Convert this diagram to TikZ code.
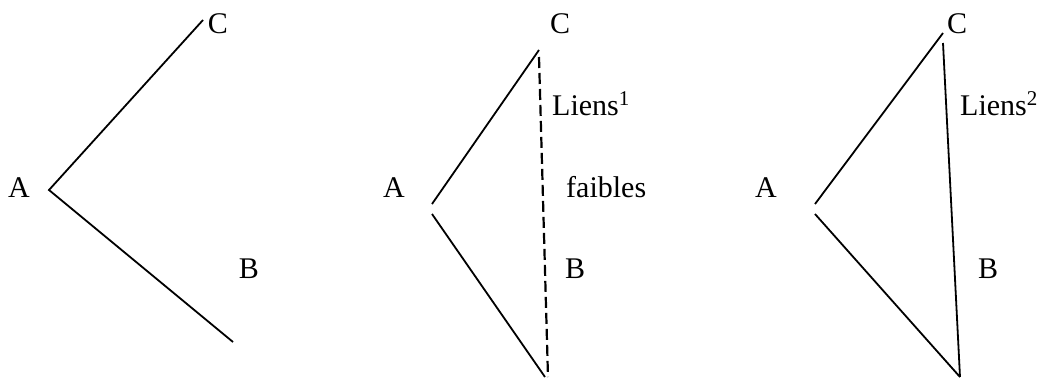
\documentclass[tikz,border=0pt]{standalone}
\usepackage{fontspec}
\setmainfont{Liberation Serif}
\begin{document}
\begin{tikzpicture}[x=1pt,y=-1pt,
  edge/.style={line width=1.8pt},
  weak/.style={line width=2.2pt,dash pattern=on 11pt off 5pt},
  lbl/.style={inner sep=0pt,anchor=base,font=\fontsize{30}{36}\selectfont},
  lblw/.style={inner sep=0pt,anchor=base west,font=\fontsize{30}{36}\selectfont}]
\useasboundingbox (0,0) rectangle (1044,378);
% panel 1
\coordinate (a1) at (49,190);
\coordinate (c1) at (203,20);
\coordinate (b1) at (233,342);
\draw[edge] (c1) -- (a1) -- (b1);
\node[lbl] (tA1) at (19,197) {A};
\node[lbl] (tC1) at (218,33) {C};
\node[lbl] (tB1) at (249,278) {B};
% panel 2
\coordinate (a2u) at (432,204);
\coordinate (a2l) at (432,214);
\coordinate (c2) at (539,50);
\coordinate (c2d) at (539,57);
\coordinate (b2) at (545,377);
\coordinate (b2d) at (548,377);
\draw[edge] (a2u) -- (c2);
\draw[edge] (a2l) -- (b2);
\draw[weak] (c2d) -- (b2d);
\node[lbl] (tA2) at (394,197) {A};
\node[lbl] (tC2) at (560,33) {C};
\node[lblw] (tL2) at (552,115) {Liens\textsuperscript{1}};
\node[lblw] (tF2) at (566,197) {faibles};
\node[lbl] (tB2) at (575,278) {B};
% panel 3
\coordinate (a3u) at (815,204);
\coordinate (a3l) at (815,214);
\coordinate (c3) at (943,33);
\coordinate (c3d) at (943,43);
\coordinate (b3) at (960,377);
\draw[edge] (a3u) -- (c3);
\draw[edge] (a3l) -- (b3);
\draw[edge] (c3d) -- (b3);
\node[lbl] (tA3) at (766,197) {A};
\node[lbl] (tC3) at (957,33) {C};
\node[lblw] (tL3) at (960,115) {Liens\textsuperscript{2}};
\node[lbl] (tB3) at (988,278) {B};
\end{tikzpicture}
\end{document}
